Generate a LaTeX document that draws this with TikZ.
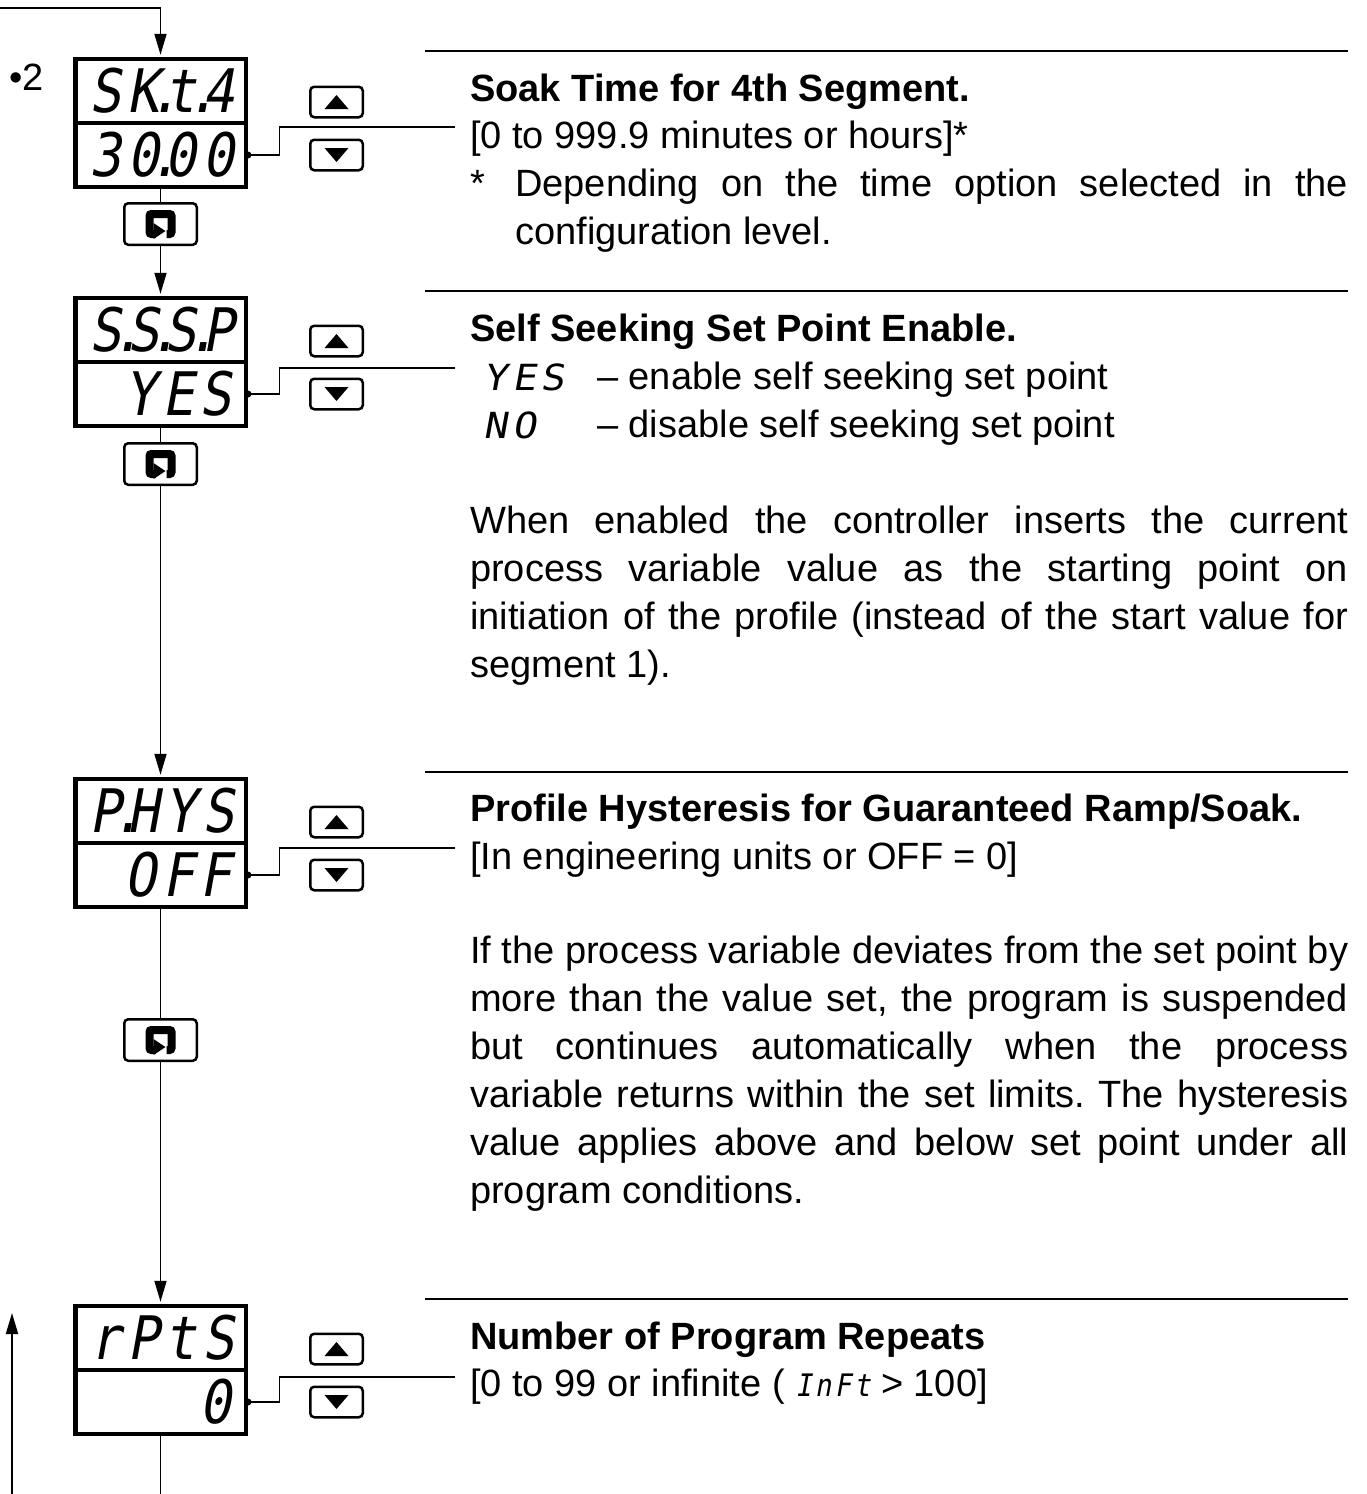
\documentclass[tikz,border=0pt]{standalone}
\usepackage{fontspec}
\setmainfont{Liberation Sans}
\newfontfamily\segfont{DejaVu Sans Mono}[FakeSlant=0.18,FakeStretch=0.88,LetterSpace=10]
\newfontfamily\segwide{DejaVu Sans Mono}[FakeSlant=0.18,FakeStretch=1.1,LetterSpace=14]
\usetikzlibrary{arrows.meta}
\newcommand\dpt{\kern6pt\makebox[0pt][c]{.}}

\begin{document}
\frenchspacing
\begin{tikzpicture}[x=1pt, y=-1pt,
  font=\fontsize{38}{48}\selectfont,
  disp/.style={draw, line width=4.5pt, minimum height=64pt, text width=142.5pt,
    inner xsep=14pt, inner ysep=0pt, align=right,
    font=\segfont\fontsize{60}{60}\selectfont},
  key/.style={draw, line width=2.5pt, rounded corners=4pt, minimum width=52.5pt,
    minimum height=30.5pt, inner sep=0pt},
  enter/.style={key, minimum width=72.5pt, minimum height=41.5pt},
  flow/.style={line width=1.8pt},
  arr/.style={-{Triangle[length=21pt,width=12pt]}, shorten >=2pt},
  wire/.style={line width=1.8pt},
  rule/.style={line width=2.4pt},
  txt/.style={anchor=base west, inner sep=0pt},
  head/.style={txt, font=\fontsize{38}{48}\selectfont\bfseries},
  para/.style={txt, align=justify},
  seg/.style={txt, font=\segwide\fontsize{36}{36}\selectfont}]
  \useasboundingbox (0,0) rectangle (1367,1494);

  % displays
  \node[disp] (skt)   at (160.5,91)   {SK\dpt t\dpt 4};
  \node[disp] (skv)   at (160.5,155)  {30\dpt 00};
  \node[disp] (sssp)  at (160.5,330)  {S\dpt S\dpt S\dpt P};
  \node[disp] (ssspv) at (160.5,394)  {YES};
  \node[disp] (phys)  at (160.5,811)  {P\dpt HYS};
  \node[disp] (physv) at (160.5,875)  {OFF};
  \node[disp] (rpts)  at (160.5,1338) {rPtS};
  \node[disp] (rptsv) at (160.5,1402) {0};

  % keys
  \node[enter] (ent1) at (160.5,224)  {};
  \node[enter] (ent2) at (160.5,464)  {};
  \node[enter] (ent3) at (160.5,1040) {};
  \node[key] (up1) at (336.5,102)  {};
  \node[key] (dn1) at (336.5,155)  {};
  \node[key] (up2) at (336.5,341)  {};
  \node[key] (dn2) at (336.5,394)  {};
  \node[key] (up3) at (336.5,822)  {};
  \node[key] (dn3) at (336.5,875)  {};
  \node[key] (up4) at (336.5,1349) {};
  \node[key] (dn4) at (336.5,1402) {};
  \foreach \k in {up1,up2,up3,up4}
    \fill[shift={(\k.center)}] (-12,7) -- (12,7) -- (0,-7) -- cycle;
  \foreach \k in {dn1,dn2,dn3,dn4}
    \fill[shift={(\k.center)}] (-12,-7) -- (12,-7) -- (0,7) -- cycle;
  \foreach \k in {ent1,ent2,ent3} {
    \draw[shift={(\k.center)}, line width=8pt, rounded corners=2pt]
      (-5,10) -- (-11,10) -- (-11,-10) -- (11,-10) -- (11,10) -- (6,10);
    \fill[shift={(\k.center)}] (-7,-1) -- (-7,15) -- (5,7) -- cycle;
  }

  % flow
  \coordinate (in)      at (0,8);
  \coordinate (out)     at (160.5,1494);
  \coordinate (back)    at (12,1494);
  \coordinate (backtip) at (12,1311);
  \draw[flow, arr] (in) -| (skt.north);
  \draw[flow] (skv.south) -- (ent1.north);
  \draw[flow, arr] (ent1.south) -- (sssp.north);
  \draw[flow] (ssspv.south) -- (ent2.north);
  \draw[flow, arr] (ent2.south) -- (phys.north);
  \draw[flow] (physv.south) -- (ent3.north);
  \draw[flow, arr] (ent3.south) -- (rpts.north);
  \draw[flow] (rptsv.south) -- (out);
  \draw[flow, arr] (back) -- (backtip);

  % leads to the text
  \coordinate (lead1) at (455,127);
  \coordinate (lead2) at (455,368);
  \coordinate (lead3) at (455,848);
  \coordinate (lead4) at (455,1377);
  \draw[wire] (skv.east) -- ++(31.5,0) |- (lead1);
  \draw[wire] (ssspv.east) -- ++(31.5,0) |- (lead2);
  \draw[wire] (physv.east) -- ++(31.5,0) |- (lead3);
  \draw[wire] (rptsv.east) -- ++(31.5,0) |- (lead4);
  \foreach \k in {skv,ssspv,physv,rptsv}
    \fill (\k.east) circle (3.5);

  \draw[rule] (425,51) -- (1348,51);
  \draw[rule] (425,291) -- (1348,291);
  \draw[rule] (425,772) -- (1348,772);
  \draw[rule] (425,1299) -- (1348,1299);

  \node[txt] (two) at (9,90) {•2};

  % texts
  \node[head] (skhead) at (470,101) {Soak Time for 4th Segment.};
  \node[txt] (skrange) at (470,148) {[0 to 999.9 minutes or hours]*};
  \node[txt] (star) at (470,196) {*};
  \node[para, text width=833pt] (sknote) at (515,196)
    {Depending on the time option selected in the\linebreak configuration level.};

  \node[head] (ssshead) at (470,341) {Self Seeking Set Point Enable.};
  \node[seg] (yes) at (483,390) {YES};
  \node[txt] (yesd) at (597,389) {– enable self seeking set point};
  \node[seg] (no) at (483,438) {NO};
  \node[txt] (nod) at (597,437) {– disable self seeking set point};
  \node[para, text width=878pt] (sssnote) at (470,533)
    {When enabled the controller inserts the current\linebreak
     process variable value as the starting point on\linebreak
     initiation of the profile (instead of the start value for\linebreak
     segment 1).};

  \node[head] (phyhead) at (470,821) {Profile Hysteresis for Guaranteed Ramp/Soak.};
  \node[txt] (phyrange) at (470,869) {[In engineering units or OFF = 0]};
  \node[para, text width=878pt] (phynote) at (470,963)
    {If the process variable deviates from the set point by\linebreak
     more than the value set, the program is suspended\linebreak
     but continues automatically when the process\linebreak
     variable returns within the set limits. The hysteresis\linebreak
     value applies above and below set point under all\linebreak
     program conditions.};

  \node[head] (rpthead) at (470,1349) {Number of Program Repeats};
  \node[txt] (rptrange) at (470,1396)
    {[0 to 99 or infinite ( {\segfont\fontsize{31}{31}\selectfont InFt} > 100]};
\end{tikzpicture}
\end{document}
